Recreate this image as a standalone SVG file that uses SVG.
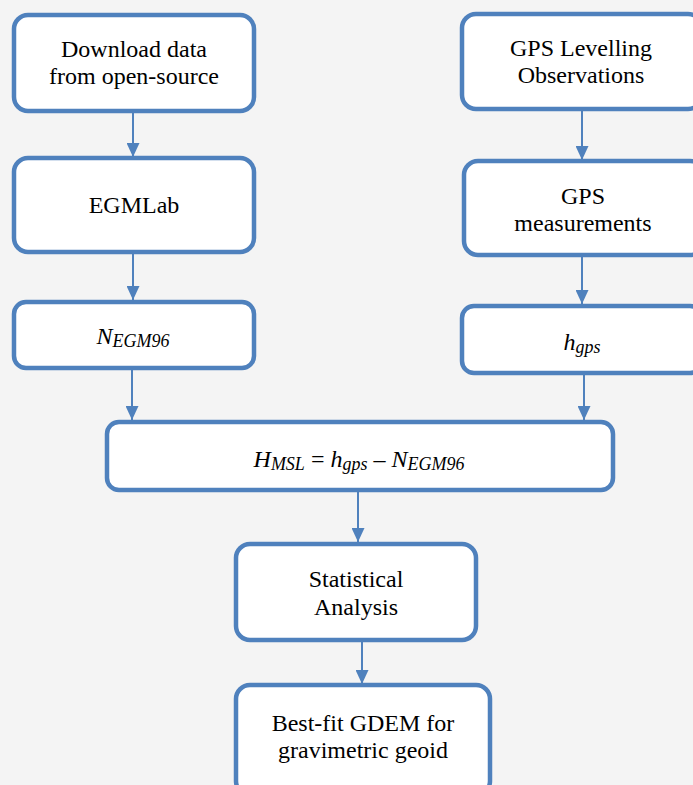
<svg xmlns="http://www.w3.org/2000/svg" width="693" height="785" viewBox="0 0 693 785">
<defs>
<marker id="ah" markerWidth="14" markerHeight="13" refX="14" refY="6.5" orient="auto" markerUnits="userSpaceOnUse">
<path d="M0,0 L14,6.5 L0,13 Z" fill="#4f81bd"/>
</marker>
<style>
.box{fill:#fff;stroke:#4f81bd;stroke-width:4.5}
.t{font-family:"Liberation Serif","Times New Roman",serif;font-size:24px;fill:#000;text-anchor:middle}
.i{font-style:italic}
.s{font-size:18px}
.c{stroke:#4f81bd;stroke-width:2;fill:none;marker-end:url(#ah)}
</style>
</defs>
<rect width="693" height="785" fill="#f4f4f4"/>
<g id="connectors">
<line class="c" x1="133" y1="113" x2="133" y2="157"/>
<line class="c" x1="582" y1="110" x2="582" y2="160"/>
<line class="c" x1="133" y1="253" x2="133" y2="300"/>
<line class="c" x1="582" y1="257" x2="582" y2="304"/>
<line class="c" x1="132" y1="370" x2="132" y2="420"/>
<line class="c" x1="584" y1="375" x2="584" y2="420"/>
<line class="c" x1="358" y1="492" x2="358" y2="542"/>
<line class="c" x1="362" y1="642" x2="362" y2="684"/>
</g>
<g id="download">
<rect class="box" x="14" y="15" width="240" height="96" rx="14"/>
<text class="t" x="134" y="57">Download data</text>
<text class="t" x="134" y="84">from open-source</text>
</g>
<g id="gpslev">
<rect class="box" x="462" y="14" width="240" height="95" rx="14"/>
<text class="t" x="581" y="56">GPS Levelling</text>
<text class="t" x="581" y="83">Observations</text>
</g>
<g id="egmlab">
<rect class="box" x="14" y="158" width="240" height="94" rx="14"/>
<text class="t" x="134" y="213">EGMLab</text>
</g>
<g id="gpsmeas">
<rect class="box" x="464" y="161" width="240" height="94" rx="14"/>
<text class="t" x="583" y="204">GPS</text>
<text class="t" x="583" y="231">measurements</text>
</g>
<g id="negm">
<rect class="box" x="14" y="302" width="240" height="66" rx="12"/>
<text class="t i" x="133" y="344">N<tspan class="s" dy="3">EGM96</tspan></text>
</g>
<g id="hgps">
<rect class="box" x="462" y="306" width="240" height="67" rx="12"/>
<text class="t i" x="582" y="350">h<tspan class="s" dy="3">gps</tspan></text>
</g>
<g id="formula">
<rect class="box" x="107" y="422" width="506" height="68" rx="12"/>
<text class="t i" x="359" y="467">H<tspan class="s" dy="3">MSL</tspan><tspan dy="-3" font-style="normal"> = </tspan>h<tspan class="s" dy="3">gps</tspan><tspan dy="-3" font-style="normal"> – </tspan>N<tspan class="s" dy="3">EGM96</tspan></text>
</g>
<g id="stat">
<rect class="box" x="236" y="544" width="240" height="96" rx="14"/>
<text class="t" x="356" y="587">Statistical</text>
<text class="t" x="356" y="615">Analysis</text>
</g>
<g id="bestfit">
<rect class="box" x="236" y="685" width="254" height="110" rx="14"/>
<text class="t" x="363" y="731">Best-fit GDEM for</text>
<text class="t" x="363" y="758">gravimetric geoid</text>
</g>
</svg>
